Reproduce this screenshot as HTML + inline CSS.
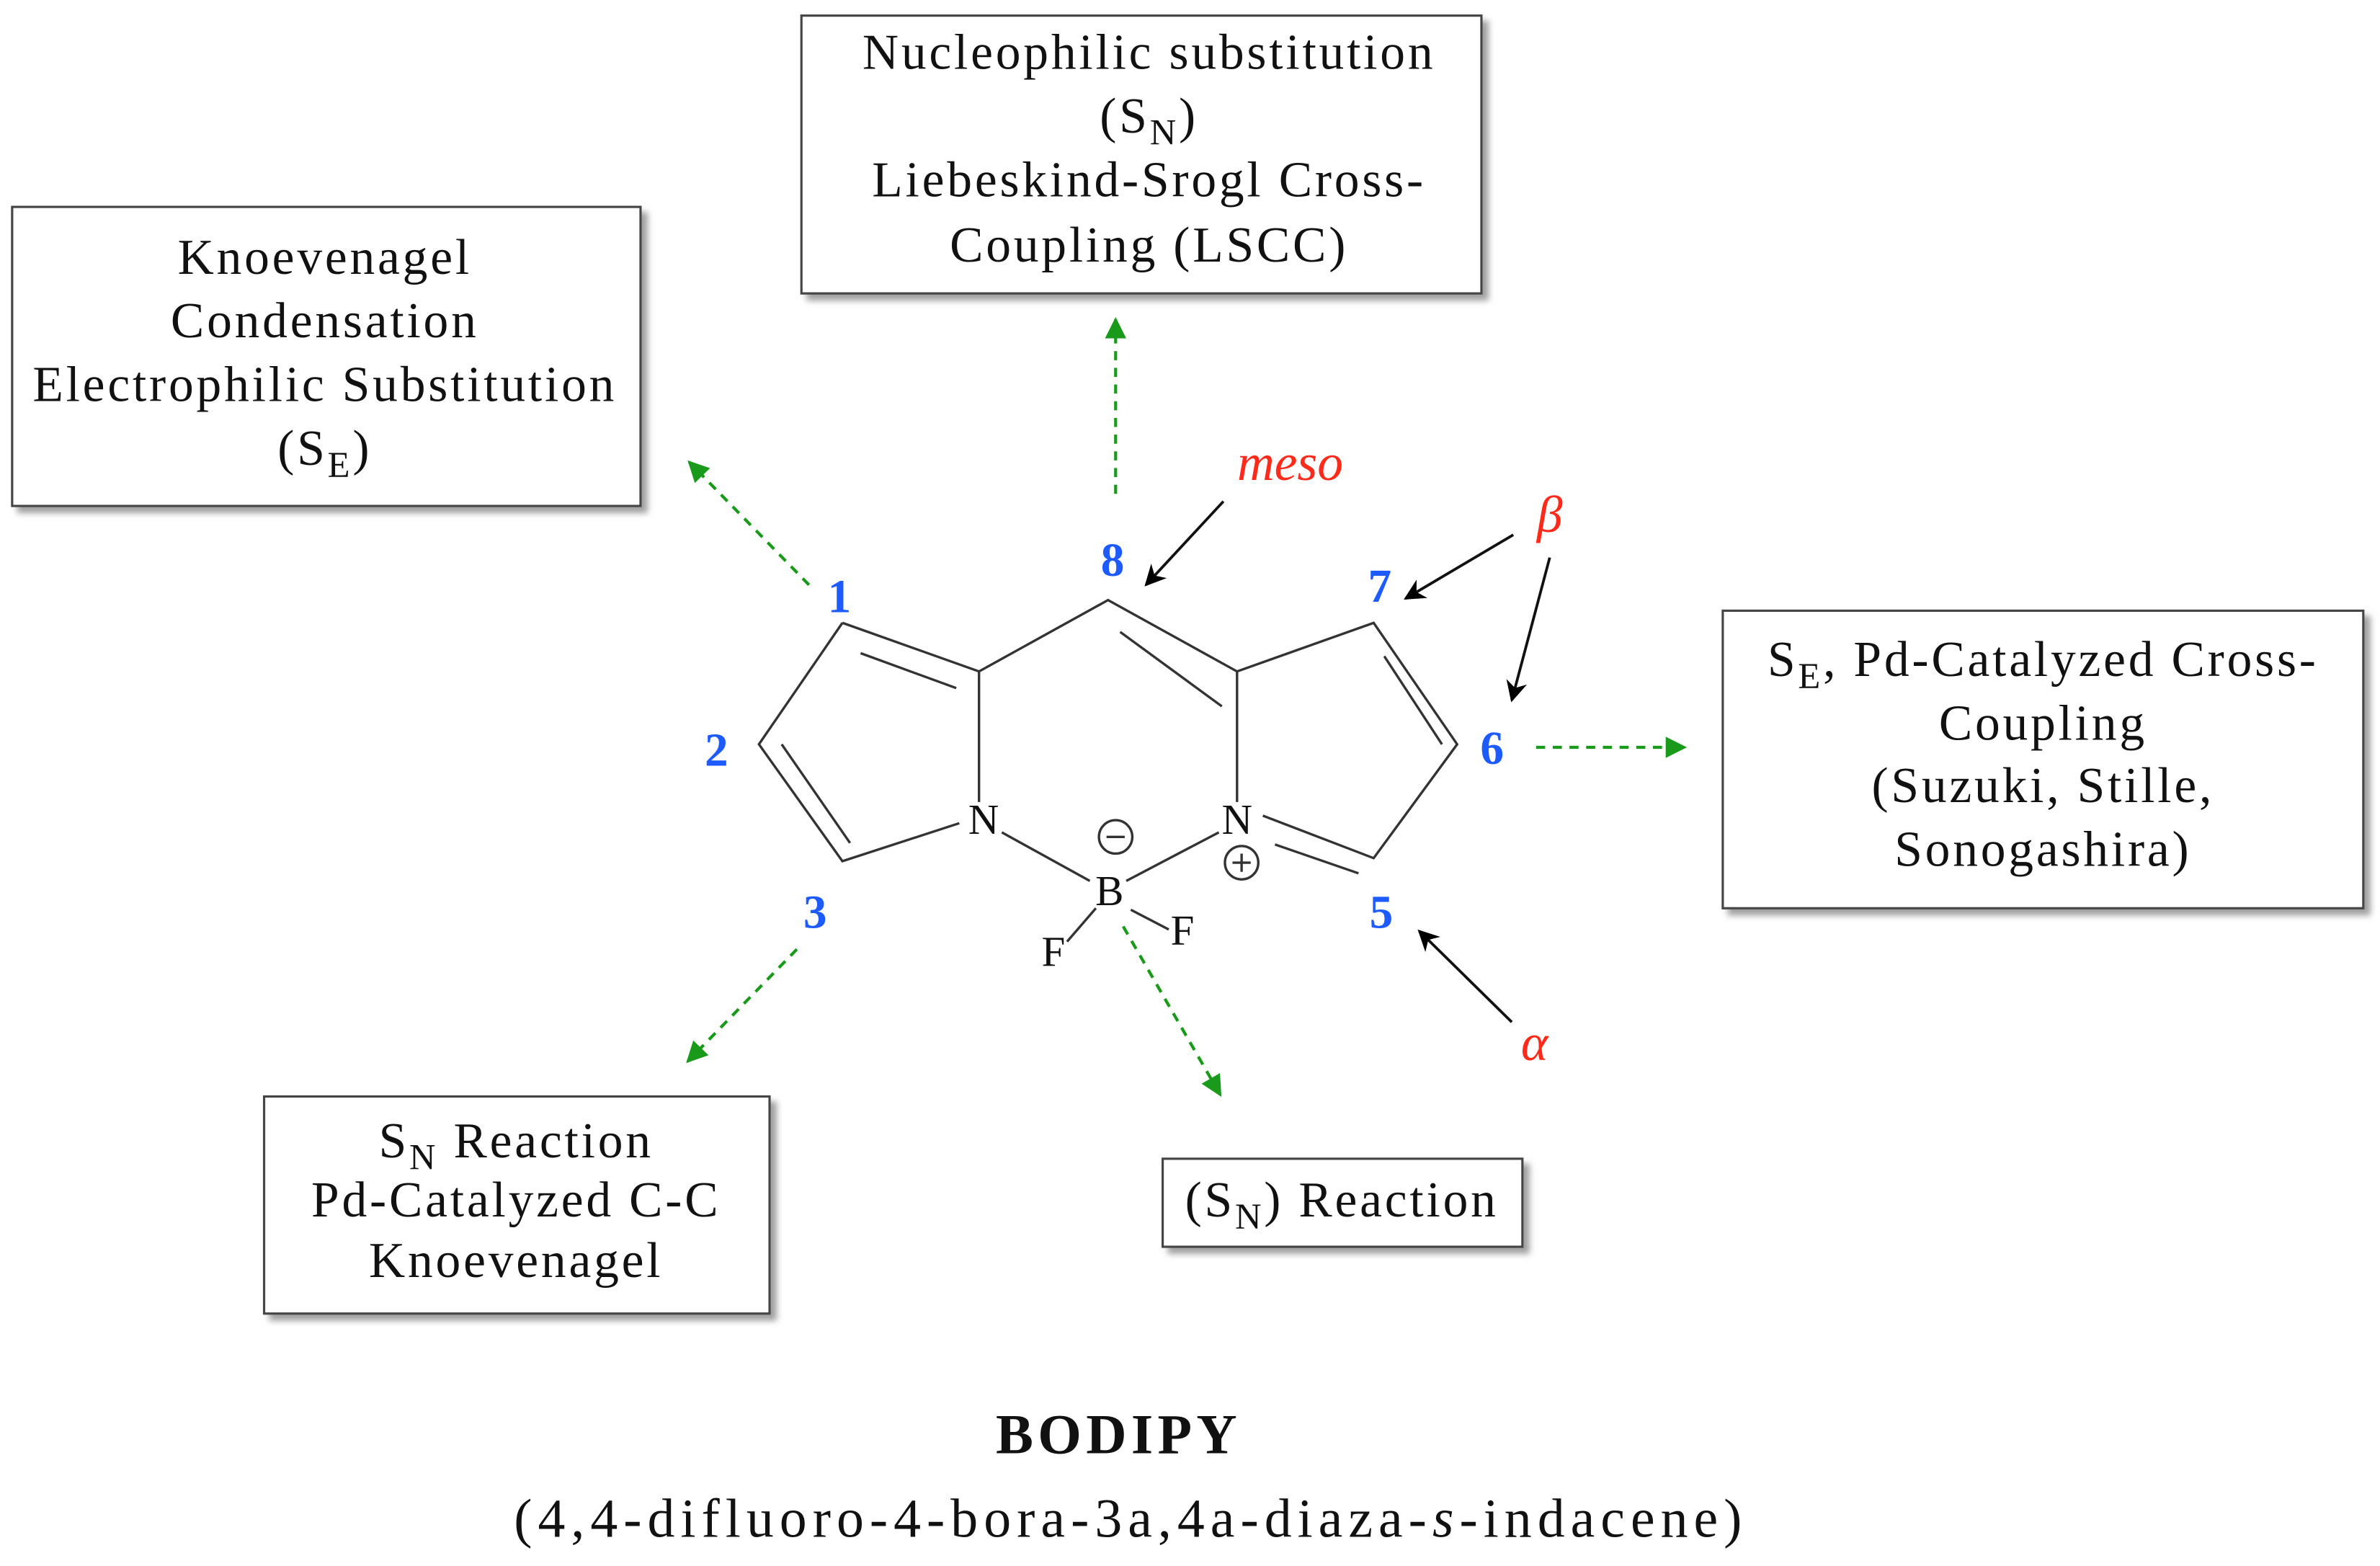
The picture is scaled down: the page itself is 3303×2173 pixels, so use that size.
<!DOCTYPE html>
<html><head><style>html,body{margin:0;padding:0;background:#fff}svg{display:block}</style></head><body>
<svg width="3303" height="2173" viewBox="0 0 1568 1031" xmlns="http://www.w3.org/2000/svg" font-family="'Liberation Serif',serif">
<defs>
<marker id="gh" viewBox="0 0 10 10" markerWidth="18" markerHeight="14" refX="9" refY="5" orient="auto" markerUnits="userSpaceOnUse"><path d="M0,0 L10,5 L0,10z" fill="#1a9a1a"/></marker>
<marker id="bh" viewBox="0 0 10 10" markerWidth="18" markerHeight="14" refX="9" refY="5" orient="auto" markerUnits="userSpaceOnUse"><path d="M0,0 L10,5 L0,10 L3,5z" fill="#000"/></marker>
<filter id="sh"><feDropShadow dx="4" dy="4" stdDeviation="2" flood-color="#888" flood-opacity="0.8"/></filter>
</defs>
<g fill="#fff" stroke="#444" stroke-width="1.5" filter="url(#sh)">
<rect x="528" y="10" width="448" height="183"/>
<rect x="8" y="136" width="414" height="197"/>
<rect x="1135" y="402" width="422" height="196"/>
<rect x="174" y="722" width="333" height="143"/>
<rect x="766" y="763" width="237" height="58"/>
</g>
<g font-size="33" text-anchor="middle" fill="#111" letter-spacing="1.8">
<text x="757" y="45">Nucleophilic substitution</text>
<text x="757" y="87">(S<tspan font-size="24" dy="8">N</tspan><tspan dy="-8">)</tspan></text>
<text x="757" y="129">Liebeskind-Srogl Cross-</text>
<text x="757" y="172">Coupling (LSCC)</text>
<text x="214" y="180">Knoevenagel</text>
<text x="214" y="222">Condensation</text>
<text x="214" y="264">Electrophilic Substitution</text>
<text x="214" y="306">(S<tspan font-size="24" dy="8">E</tspan><tspan dy="-8">)</tspan></text>
<text x="1346" y="445">S<tspan font-size="24" dy="8">E</tspan><tspan dy="-8">, Pd-Catalyzed Cross-</tspan></text>
<text x="1346" y="487">Coupling</text>
<text x="1346" y="528">(Suzuki, Stille,</text>
<text x="1346" y="570">Sonogashira)</text>
<text x="340" y="762">S<tspan font-size="24" dy="8">N</tspan><tspan dy="-8"> Reaction</tspan></text>
<text x="340" y="801">Pd-Catalyzed C-C</text>
<text x="340" y="841">Knoevenagel</text>
<text x="884" y="801">(S<tspan font-size="24" dy="8">N</tspan><tspan dy="-8">) Reaction</tspan></text>
</g>
<g stroke="#333" stroke-width="1.6" fill="none">
<path d="M555,410 L500,490 L555,567 L632,542"/>
<path d="M555,410 L645,442 L730,395 L815,442 L905,410 L960,490 L905,565 L832,537"/>
<path d="M645,442 L645,528 M815,442 L815,528"/>
<path d="M567,430 L630,453 M515,490 L560,555 M738,416 L805,465 M912,432 L950,490 M840,556 L895,575"/>
<path d="M660,548 L718,580 M742,580 L803,548 M722,598 L703,620 M745,599 L770,612"/>
<circle cx="735" cy="551" r="11"/><path d="M729,551 h12"/>
<circle cx="818" cy="568" r="11"/><path d="M812,568 h12 M818,562 v12"/>
</g>
<g font-size="28" fill="#111" text-anchor="middle">
<text x="648" y="549">N</text><text x="815" y="549">N</text>
<text x="731" y="596">B</text><text x="694" y="636">F</text><text x="779" y="622">F</text>
</g>
<g stroke="#1a9a1a" stroke-width="2" stroke-dasharray="6,5" fill="none" marker-end="url(#gh)">
<path d="M533,385 L454,304"/>
<path d="M735,325 L735,210"/>
<path d="M1012,492 L1110,492"/>
<path d="M525,625 L453,699"/>
<path d="M740,610 L804,721"/>
</g>
<g stroke="#111" stroke-width="1.8" fill="none" marker-end="url(#bh)">
<path d="M806,330 L755,385"/>
<path d="M997,352 L926,394"/>
<path d="M1021,367 L996,461"/>
<path d="M996,673 L935,613"/>
</g>
<g font-size="34" fill="#ff2a1a" font-style="italic" text-anchor="middle">
<text x="850" y="316">meso</text><text x="1021" y="350">β</text><text x="1011" y="698">α</text>
</g>
<g font-size="31" fill="#1e5bff" font-weight="bold" text-anchor="middle">
<text x="553" y="403">1</text><text x="733" y="379">8</text><text x="909" y="396">7</text>
<text x="472" y="504">2</text><text x="983" y="503">6</text><text x="537" y="611">3</text><text x="910" y="611">5</text>
</g>
<text x="737" y="957" font-size="37" font-weight="bold" text-anchor="middle" fill="#111" letter-spacing="3">BODIPY</text>
<text x="745" y="1012" font-size="36" text-anchor="middle" fill="#111" letter-spacing="3.8">(4,4-difluoro-4-bora-3a,4a-diaza-<tspan font-style="italic">s</tspan>-indacene)</text>
</svg>
</body></html>
